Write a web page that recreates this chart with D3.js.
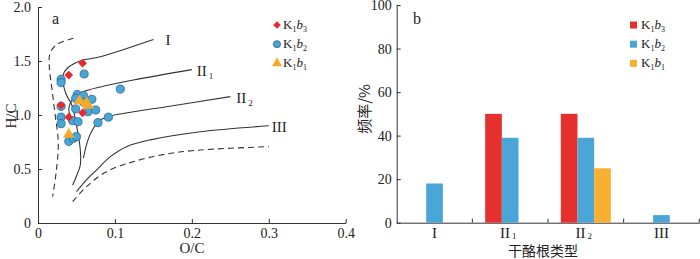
<!DOCTYPE html>
<html>
<head>
<meta charset="utf-8">
<script src="https://cdn.jsdelivr.net/npm/d3@7"></script>
<style>
  body { margin: 0; background: #fff; }
  svg { display: block; }
  text { font-family: "Liberation Serif", "Times New Roman", serif; fill: #222; }
  .axis path, .axis line { stroke: #333; stroke-width: 1; }
  .axis text { font-size: 14px; }
  .cjk { font-family: "Noto Sans CJK SC", sans-serif; }
</style>
</head>
<body>
<svg width="700" height="259"></svg>
<script>
// ---- data: panel a (van Krevelen) ----
const k1b3 = [[0.058, 1.48], [0.040, 1.37], [0.030, 1.09], [0.040, 0.98], [0.058, 1.02]];
const k1b2 = [[0.030, 1.33], [0.030, 1.30], [0.060, 1.38], [0.107, 1.24], [0.051, 1.19],
              [0.059, 1.18], [0.049, 1.155], [0.070, 1.146], [0.059, 1.12], [0.030, 1.08],
              [0.049, 1.056], [0.065, 1.031], [0.075, 1.046], [0.0915, 0.98], [0.030, 0.98],
              [0.030, 0.92], [0.045, 0.947], [0.052, 0.938], [0.078, 0.929], [0.040, 0.756],
              [0.046, 0.784], [0.050, 0.80]];
const k1b1 = [[0.054, 1.13], [0.063, 1.11], [0.065, 1.09], [0.040, 0.82]];

const curveI   = [[0.15, 1.70], [0.081, 1.54], [0.055, 1.50], [0.039, 1.44], [0.0325, 1.37],
                  [0.033, 1.28], [0.037, 1.185], [0.044, 1.093], [0.050, 0.907], [0.055, 0.676],
                  [0.055, 0.537], [0.049, 0.417], [0.045, 0.35]];
const curveII1 = [[0.20, 1.42], [0.124, 1.324], [0.081, 1.26], [0.059, 1.216], [0.048, 1.17],
                  [0.042, 1.11], [0.040, 1.046], [0.043, 0.985], [0.050, 0.907]];
const curveII2 = [[0.25, 1.17], [0.167, 1.077], [0.124, 1.03], [0.094, 0.99], [0.081, 0.954],
                  [0.072, 0.877], [0.065, 0.77], [0.059, 0.60]];
const curveIII = [[0.30, 0.90], [0.211, 0.845], [0.146, 0.77], [0.115, 0.707], [0.094, 0.614],
                  [0.076, 0.49], [0.063, 0.40], [0.050, 0.29]];
const dashLeft = [[0.046, 1.71], [0.024, 1.65], [0.0156, 1.57], [0.0147, 1.447], [0.0178, 1.26],
                  [0.022, 1.016], [0.0264, 0.738], [0.0234, 0.46], [0.019, 0.244]];
const dashLow  = [[0.045, 0.197], [0.063, 0.336], [0.089, 0.475], [0.124, 0.568], [0.167, 0.639],
                  [0.211, 0.676], [0.30, 0.707]];

// ---- data: panel b (frequency) ----
const types = ["I", "II1", "II2", "III"];
const series = ["K1b3", "K1b2", "K1b1"];
const freqK1b3 = [0, 50, 50, 0];
const freqK1b2 = [18, 39, 39, 3.5];
const freqK1b1 = [0, 0, 25, 0];

const red = "#e5312e", blue = "#4aa6d7", orange = "#f7b032";

const svg = d3.select("svg");

// roman numeral with subscript ("II1" -> II + sub 1)
function roman(sel, label, size, drop) {
  const m = label.match(/^([IV]+)(\d?)$/);
  sel.append("tspan").text(m[1]);
  if (m[2]) sel.append("tspan").attr("font-size", size * 0.6).attr("dy", drop).attr("dx", 2).text(m[2]);
}
// K1b3 style legend label
function kLabel(sel, name) {
  sel.append("tspan").text("K");
  sel.append("tspan").attr("font-size", 8).attr("dy", 3).text(name[1]);
  sel.append("tspan").attr("font-style", "italic").attr("dy", -3).text("b");
  sel.append("tspan").attr("font-size", 8).attr("dy", 3).text(name[3]);
}

// ================= panel a =================
const xa = d3.scaleLinear().domain([0, 0.4]).range([38, 345.7]);
const ya = d3.scaleLinear().domain([0, 2]).range([223, 7]);

svg.append("g").attr("class", "axis").attr("transform", "translate(0,223)")
  .call(d3.axisBottom(xa).tickValues([0, 0.1, 0.2, 0.3, 0.4]).tickFormat(d => d === 0 ? "0" : d3.format(".1f")(d))
    .tickSizeInner(-4).tickSizeOuter(0).tickPadding(5));
svg.append("g").attr("class", "axis").attr("transform", "translate(38,0)")
  .call(d3.axisLeft(ya).tickValues([0, 0.5, 1, 1.5, 2]).tickFormat(d => d === 0 ? "0" : d3.format(".1f")(d))
    .tickSizeInner(-4).tickSizeOuter(0).tickPadding(7));

svg.append("text").attr("transform", "translate(11,116) rotate(-90)").attr("text-anchor", "middle")
  .attr("dy", "0.35em").attr("font-size", 15).text("H/C");
svg.append("text").attr("x", 192).attr("y", 253).attr("text-anchor", "middle").attr("font-size", 15).text("O/C");
svg.append("text").attr("x", 52).attr("y", 24).attr("font-size", 16).text("a");

const line = d3.line().x(d => xa(d[0])).y(d => ya(d[1])).curve(d3.curveCatmullRom.alpha(0.5));
const curves = svg.append("g").attr("fill", "none").attr("stroke", "#333").attr("stroke-width", 1.1);
[curveI, curveII1, curveII2, curveIII].forEach(c => curves.append("path").attr("d", line(c)));
[dashLeft, dashLow].forEach(c => curves.append("path").attr("d", line(c)).attr("stroke-dasharray", "6,4"));

const curveLabels = [["I", curveI, 12], ["II1", curveII1, 5], ["II2", curveII2, 6], ["III", curveIII, 3]];
curveLabels.forEach(([lab, c, off]) => {
  svg.append("text").attr("x", xa(c[0][0]) + off).attr("y", ya(c[0][1]) + 6)
    .attr("font-size", 15).call(roman, lab, 15, 3);
});

const pts = svg.append("g");
pts.selectAll("path.b2").data(k1b2).join("path").attr("class", "b2")
  .attr("transform", d => `translate(${xa(d[0])},${ya(d[1])})`)
  .attr("d", d3.symbol(d3.symbolCircle, 52)).attr("fill", blue).attr("stroke", "#2a6590").attr("stroke-width", 0.8);
pts.selectAll("path.b3").data(k1b3).join("path").attr("class", "b3")
  .attr("transform", d => `translate(${xa(d[0])},${ya(d[1])})`)
  .attr("d", d3.symbol(d3.symbolDiamond2, 48)).attr("fill", "#e8282a");
pts.selectAll("path.b1").data(k1b1).join("path").attr("class", "b1")
  .attr("transform", d => `translate(${xa(d[0])},${ya(d[1])})`)
  .attr("d", d3.symbol(d3.symbolTriangle, 60)).attr("fill", "#f7a92a");

const legA = [
  ["K1b3", d3.symbolDiamond2, "#e8282a", null, 36],
  ["K1b2", d3.symbolCircle, blue, "#2a6590", 40],
  ["K1b1", d3.symbolTriangle, "#f7a92a", null, 44]
];
legA.forEach(([name, sym, fill, stroke, size], i) => {
  const yy = 25 + i * 19.2;
  svg.append("path").attr("transform", `translate(277,${yy})`).attr("d", d3.symbol(sym, size))
    .attr("fill", fill).attr("stroke", stroke || "none").attr("stroke-width", 0.8);
  svg.append("text").attr("x", 283).attr("y", yy + 4).attr("font-size", 13).call(kLabel, name);
});

// ================= panel b =================
const xb = d3.scaleBand().domain(types).range([396.7, 699.3]).padding(0);
const xs = d3.scaleBand().domain(series).range([-25, 25]).padding(0);
const yb = d3.scaleLinear().domain([0, 100]).range([222.7, 5]);
const colors = d3.scaleOrdinal().domain(series).range([red, blue, orange]);

const bx = svg.append("g").attr("class", "axis").attr("transform", "translate(0,222.7)")
  .call(d3.axisBottom(xb).tickSize(0).tickSizeOuter(0).tickFormat(""));
bx.selectAll(".bound").data(types.slice(1).map(t => xb(t)).concat([xb.range()[1]])).join("line")
  .attr("class", "bound").attr("x1", d => d).attr("x2", d => d).attr("y1", 0).attr("y2", -4);
svg.append("g").selectAll("text").data(types).join("text")
  .attr("x", d => xb(d) + xb.bandwidth() / 2 - (/\d/.test(d) ? 2 : 0))
  .attr("y", 237.5).attr("text-anchor", "middle").attr("font-size", 15)
  .each(function(d) { d3.select(this).call(roman, d, 15, 1.5); });

svg.append("g").attr("class", "axis").attr("transform", "translate(396.7,0)")
  .call(d3.axisLeft(yb).tickValues([0, 20, 40, 60, 80, 100]).tickSizeInner(-4).tickSizeOuter(0).tickPadding(5));

const table = types.map((t, i) => ({ type: t, values: [freqK1b3[i], freqK1b2[i], freqK1b1[i]] }));
const groups = svg.append("g").selectAll("g").data(table).join("g")
  .attr("transform", d => `translate(${xb(d.type) + xb.bandwidth() / 2},0)`);
groups.selectAll("rect").data(d => d.values.map((v, j) => ({ key: series[j], v })).filter(e => e.v > 0))
  .join("rect")
  .attr("x", d => xs(d.key)).attr("width", xs.bandwidth())
  .attr("y", d => yb(d.v)).attr("height", d => yb(0) - yb(d.v))
  .attr("fill", d => colors(d.key));

svg.append("text").attr("class", "cjk").attr("transform", "translate(365,109) rotate(-90)")
  .attr("text-anchor", "middle").attr("dy", "0.35em").attr("font-size", 15).text("频率/%");
svg.append("text").attr("class", "cjk").attr("x", 543).attr("y", 255.5).attr("text-anchor", "middle")
  .attr("font-size", 14).text("干酪根类型");
svg.append("text").attr("x", 413).attr("y", 24).attr("font-size", 16).text("b");

series.forEach((s, i) => {
  const yy = 25 + i * 19.2;
  svg.append("rect").attr("x", 630).attr("y", yy - 3.5).attr("width", 7).attr("height", 7).attr("fill", colors(s));
  svg.append("text").attr("x", 641).attr("y", yy + 4).attr("font-size", 13).call(kLabel, s);
});
</script>
</body>
</html>
